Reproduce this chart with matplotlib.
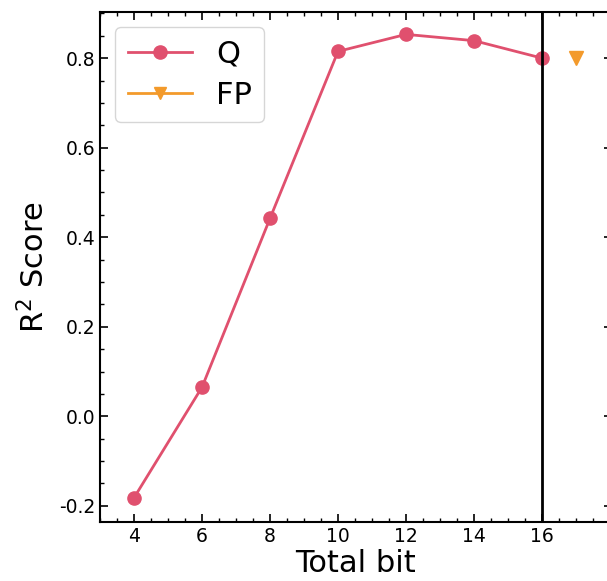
import matplotlib
matplotlib.use("Agg")
import matplotlib.pyplot as plt
from matplotlib.ticker import MultipleLocator
from matplotlib.lines import Line2D

bits = [4, 6, 8, 10, 12, 14, 16]
q_scores = [-0.182, 0.065, 0.442, 0.815, 0.853, 0.839, 0.800]
fp_x = [17]
fp_scores = [0.800]
x_ticks = [4, 6, 8, 10, 12, 14, 16]
y_ticks = [-0.2, 0.0, 0.2, 0.4, 0.6, 0.8]
y_tick_labels = ["-0.2", "0.0", "0.2", "0.4", "0.6", "0.8"]

Q_COLOR = "#e0506e"
FP_COLOR = "#f39a2b"

fig = plt.figure(figsize=(6.07, 5.81), dpi=100)
W, H = 607, 581
px_per_unit = 34.0
x0, x1 = 3.0, 18.05
left_px, bottom_px, top_px = 100, 522, 12
ax = fig.add_axes([left_px / W, 1 - bottom_px / H, (x1 - x0) * px_per_unit / W, (bottom_px - top_px) / H])

ax.plot(bits, q_scores, color=Q_COLOR, marker="o", markersize=9.5, linewidth=2, label="Q")
ax.plot(fp_x, fp_scores, color=FP_COLOR, marker="v", markersize=9.5, linewidth=2, linestyle="none", label="FP")
ax.axvline(16, color="black", linewidth=2)

ax.set_xlim(x0, x1)
ax.set_ylim(-0.236, 0.903)
ax.set_xticks(x_ticks)
ax.xaxis.set_minor_locator(MultipleLocator(0.5))
ax.set_yticks(y_ticks)
ax.set_yticklabels(y_tick_labels)
ax.yaxis.set_minor_locator(MultipleLocator(0.05))
ax.tick_params(which="both", direction="in", top=True, right=True, labelsize=13.5)
ax.tick_params(which="major", length=6, width=1.2)
ax.tick_params(which="minor", length=3, width=1)
for s in ax.spines.values():
    s.set_linewidth(1.5)

ax.set_xlabel("Total bit", fontsize=22, labelpad=2)
ax.set_ylabel("R$^2$ Score", fontsize=22, labelpad=6)

handles = [
    Line2D([], [], color=Q_COLOR, marker="o", markersize=9.5, linewidth=2),
    Line2D([], [], color=FP_COLOR, marker="v", markersize=9, linewidth=2),
]
ax.legend(handles, ["Q", "FP"], loc="upper left", fontsize=22, frameon=True,
          fancybox=True, edgecolor="#cccccc", handlelength=2.1, handletextpad=0.8,
          borderpad=0.4, labelspacing=0.4, borderaxespad=0.5)

fig.savefig("out.png", dpi=100)
